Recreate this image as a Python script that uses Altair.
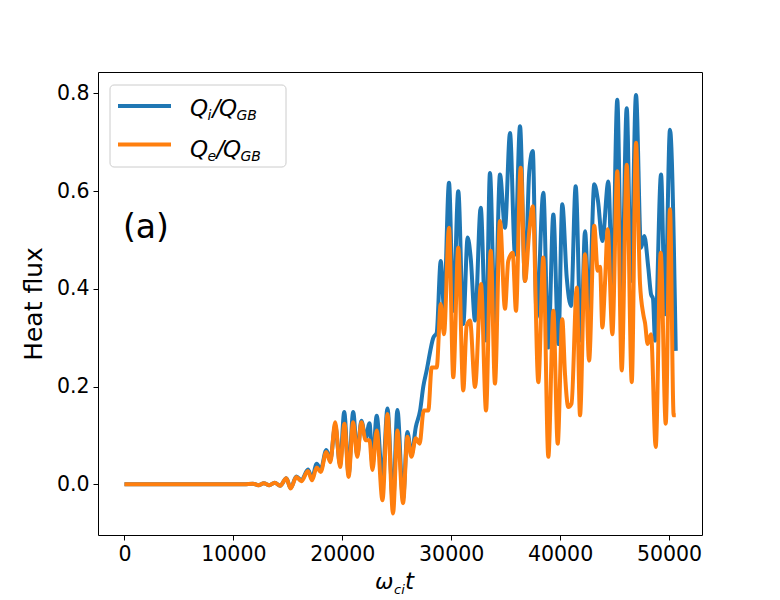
import altair as alt
import pandas as pd

# Ion heat flux Q_i/Q_GB : (omega_ci t, value)
QI = [(0,0),(11000,0),(11800,0.001),(12300,-0.002),(12800,0.002),(13300,-0.002),(13800,0.003),
      (14300,-0.003),(14860,0.012),(15260,-0.008),(15780,0.016),
      (16240,0.008),(16850,0.03),(17220,0.012),(17650,0.042),(18020,0.03),(18530,0.07),(18900,0.05),
      (19350,0.12),(19800,0.04),(20180,0.148),(20580,0.02),(21000,0.148),(21380,0.06),(21750,0.13),
      (22150,0.095),(22500,0.125),(22770,0.04),(23160,0.14),(23690,0.01),(24150,0.155),(24660,-0.04),
      (25060,0.152),(25580,-0.03),(25980,0.107),(26350,0.06),(26750,0.117),(27140,0.15),(27440,0.2),
      (27750,0.233),(28360,0.30),(28670,0.31),(29040,0.457),(29340,0.362),(29800,0.617),(30190,0.355),
      (30650,0.60),(31110,0.328),(31510,0.505),(31790,0.464),(32190,0.335),(32710,0.566),(33200,0.294),
      (33560,0.637),(34020,0.328),(34480,0.634),(34940,0.525),(35400,0.719),(35860,0.47),(36320,0.733),
      (36780,0.416),(37170,0.641),(37490,0.682),(37850,0.341),(38460,0.597),(38920,0.28),(39380,0.552),
      (39840,0.287),(40200,0.573),(40610,0.423),(41000,0.365),(41430,0.61),(41920,0.294),(42290,0.518),
      (42660,0.355),(43140,0.614),(43480,0.58),(43880,0.498),(44430,0.62),(44800,0.40),(45250,0.787),
      (45660,0.389),(46120,0.77),(46510,0.416),(46970,0.797),(47430,0.484),(47730,0.508),(48100,0.443),
      (48350,0.389),(48530,0.38),(48720,0.294),(49270,0.634),(49640,0.348),(50090,0.726),(50620,0.273)]

# Electron heat flux Q_e/Q_GB
QE = [(0,0),(11000,0),(11800,0.001),(12300,-0.002),(12800,0.002),(13300,-0.002),(13800,0.003),
      (14300,-0.003),(14860,0.012),(15260,-0.009),(15780,0.015),
      (16240,0.006),(16850,0.027),(17220,0.008),(17650,0.034),(18020,0.025),(18530,0.066),(18900,0.045),
      (19350,0.127),(19800,0.035),(20200,0.124),(20580,0.015),(21000,0.127),(21380,0.056),(21750,0.127),
      (22150,0.09),(22500,0.09),(22770,0.029),(23160,0.11),(23690,-0.033),(24150,0.144),(24660,-0.06),
      (25060,0.11),(25580,-0.039),(25980,0.097),(26350,0.056),(26750,0.094),(27100,0.083),(27480,0.151),
      (27900,0.151),(28210,0.239),(28670,0.239),(29040,0.369),(29340,0.307),(29800,0.525),(30190,0.219),
      (30650,0.484),(31110,0.192),(31420,0.324),(31730,0.335),(32190,0.199),(32740,0.41),(33200,0.151),
      (33630,0.478),(34020,0.206),(34480,0.539),(34940,0.359),(35240,0.457),(35650,0.474),(35950,0.355),
      (36380,0.648),(36780,0.416),(37170,0.518),(37490,0.569),(38000,0.209),(38460,0.464),(38920,0.056),
      (39380,0.355),(39780,0.083),(40200,0.338),(40450,0.226),(40750,0.158),(41050,0.165),(41530,0.403),
      (41830,0.141),(42290,0.471),(42660,0.253),(43140,0.529),(43450,0.437),(43670,0.445),(43880,0.321),
      (44120,0.41),(44370,0.522),(44800,0.307),(45250,0.641),(45660,0.233),(46120,0.654),(46580,0.209),
      (46970,0.699),(47340,0.41),(47640,0.348),(47800,0.33),(48040,0.287),(48350,0.307),(48780,0.076),
      (49240,0.474),(49700,0.124),(50090,0.563),(50430,0.141),(50620,0.141)]

X_TICKS = [0, 10000, 20000, 30000, 40000, 50000]
Y_TICKS = [0.0, 0.2, 0.4, 0.6, 0.8]
X_DOMAIN = [-2430, 53030]
Y_DOMAIN = [-0.104, 0.844]
BLUE = "#1f77b4"
ORANGE = "#ff7f0e"
FONT = "DejaVu Sans"

df_i = pd.DataFrame(QI, columns=["t", "q"])
df_e = pd.DataFrame(QE, columns=["t", "q"])

xs = alt.Scale(domain=X_DOMAIN, nice=False, zero=False)
ys = alt.Scale(domain=Y_DOMAIN, nice=False, zero=False)

xaxis = alt.Axis(values=X_TICKS, format="d", title=None, grid=False, tickSize=5,
                 labelPadding=4, labelFontSize=20.5, labelFont=FONT, labelColor="black",
                 tickColor="black", domain=False)
yaxis = alt.Axis(values=Y_TICKS, format=".1f", title="Heat flux", grid=False, tickSize=5,
                 labelPadding=4, labelFontSize=20.5, labelFont=FONT, labelColor="black",
                 tickColor="black", domain=False, titleFontSize=25, titleFont=FONT,
                 titleFontWeight="normal", titleColor="black", titlePadding=10)


def line(df, color):
    return alt.Chart(df).mark_line(color=color, strokeWidth=4, interpolate="monotone",
                                   strokeCap="butt").encode(
        x=alt.X("t:Q", scale=xs, axis=xaxis),
        y=alt.Y("q:Q", scale=ys, axis=yaxis),
    )


def txt(s, x, y, size, italic=True):
    return alt.Chart(pd.DataFrame({"s": [s]})).mark_text(
        align="left", baseline="alphabetic", font=FONT, fontSize=size,
        fontStyle="italic" if italic else "normal", color="black").encode(
        text="s:N", x=alt.value(x), y=alt.value(y))


legend_box = alt.Chart(pd.DataFrame({"a": [0]})).mark_rect(
    fill="white", fillOpacity=0.8, stroke="#cccccc", strokeWidth=1, cornerRadius=4).encode(
    x=alt.value(12), x2=alt.value(188), y=alt.value(13), y2=alt.value(95))


def leg_line(color, y):
    return alt.Chart(pd.DataFrame({"a": [0]})).mark_rule(color=color, strokeWidth=4).encode(
        x=alt.value(20), x2=alt.value(73), y=alt.value(y))


M = 23    # math font size
S = 14    # subscript size
layers = [
    line(df_i, BLUE),
    line(df_e, ORANGE),
    legend_box,
    leg_line(BLUE, 34),
    leg_line(ORANGE, 72.5),
    txt("Q", 92, 43.5, M), txt("i", 109.5, 47.5, S), txt("/", 114.5, 43.5, M),
    txt("Q", 121, 43.5, M), txt("GB", 138.5, 47.5, S),
    txt("Q", 92, 84.5, M), txt("e", 109.5, 88.5, S), txt("/", 118.5, 84.5, M),
    txt("Q", 125, 84.5, M), txt("GB", 142.5, 88.5, S),
    txt("(a)", 25, 166, 33, italic=False),
    txt("ω", 277, 517, 22), txt("ci", 296, 522, 13), txt("t", 307, 517, 23),
]

chart = alt.layer(*layers).properties(
    width=604, height=463,
    autosize=alt.AutoSizeParams(type="none"),
    padding={"left": 90, "top": 64, "right": 70, "bottom": 65},
).configure_view(stroke="black", strokeWidth=1)

chart.save("out.html", embed_options={"renderer": "svg", "actions": False})
